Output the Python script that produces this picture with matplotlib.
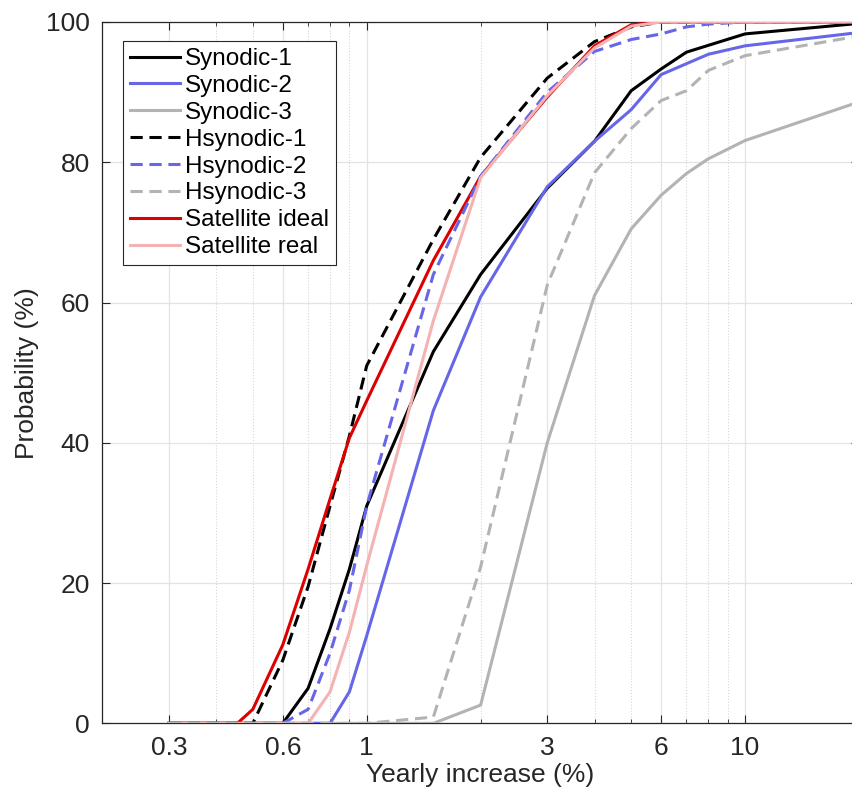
import matplotlib
matplotlib.use("Agg")
import matplotlib.pyplot as plt
from matplotlib.ticker import FixedLocator, LogLocator, NullFormatter

plt.rcParams['font.family'] = ['Liberation Sans', 'DejaVu Sans']

# Odczytane wartosci krzywych (x w %, y w %)
syn1_x = [0.3, 0.6, 0.7, 0.8, 0.9, 1, 1.5, 2, 3, 4, 5, 6, 7, 10, 20]
syn1_y = [0, 0, 5, 13.5, 22, 31, 53, 64, 76.3, 83, 90.2, 93.3, 95.7, 98.3, 99.8]

syn2_x = [0.3, 0.8, 0.9, 1, 1.5, 2, 3, 4, 5, 6, 8, 10, 20]
syn2_y = [0, 0, 4.5, 12.5, 44.6, 60.8, 76.5, 83, 87.5, 92.5, 95.4, 96.6, 98.5]

syn3_x = [0.3, 1.5, 2, 3, 4, 5, 6, 7, 8, 10, 20]
syn3_y = [0, 0, 2.6, 40, 61, 70.5, 75.3, 78.4, 80.5, 83.1, 88.6]

hsyn1_x = [0.3, 0.5, 0.6, 0.7, 0.8, 0.9, 1, 1.5, 2, 3, 4, 5, 6, 20]
hsyn1_y = [0, 0, 9, 19.5, 31, 41, 51, 69, 80.7, 92, 97.2, 99.3, 100, 100]

hsyn2_x = [0.3, 0.6, 0.7, 0.8, 0.9, 1, 1.5, 2, 3, 4, 5, 6, 7, 8, 10, 20]
hsyn2_y = [0, 0, 2, 10, 19, 31, 64, 78, 90, 95.8, 97.5, 98.3, 99.3, 99.7, 100, 100]

hsyn3_x = [0.3, 1.0, 1.2, 1.5, 2, 3, 4, 5, 6, 7, 8, 10, 20]
hsyn3_y = [0, 0, 0.4, 0.9, 22.3, 62.5, 78.5, 84.8, 88.8, 90.2, 93.1, 95.2, 98]

sat_ideal_x = [0.3, 0.455, 0.5, 0.6, 0.7, 0.8, 0.9, 1, 1.5, 2, 3, 4, 5, 6, 20]
sat_ideal_y = [0, 0, 2, 11.2, 22, 32, 40.7, 46, 66, 78, 89.3, 96.6, 99.6, 100, 100]

sat_real_x = [0.3, 0.7, 0.8, 0.9, 1, 1.5, 2, 3, 4, 5, 6, 20]
sat_real_y = [0, 0, 4.5, 13, 22.5, 57.4, 77.8, 89.5, 96.3, 99.4, 100, 100]

x_ticks = [0.3, 0.6, 1, 3, 6, 10]
x_tick_labels = ['0.3', '0.6', '1', '3', '6', '10']
y_ticks = [0, 20, 40, 60, 80, 100]

BLUE = '#6666e8'
GRAY = '#b3b3b3'
RED = '#dd0000'
PINK = '#f5b2b2'
TXT = '#262626'

fig = plt.figure(figsize=(8.53, 7.94), dpi=100)
ax = fig.add_axes([0.1199, 0.0890, 0.8871, 0.8833])

dash = (4, 2.2)
lw = 2.2
h1, = ax.plot(syn1_x, syn1_y, color='black', lw=lw, label='Synodic-1', zorder=3)
h2, = ax.plot(syn2_x, syn2_y, color=BLUE, lw=lw, label='Synodic-2', zorder=3)
h3, = ax.plot(syn3_x, syn3_y, color=GRAY, lw=lw, label='Synodic-3', zorder=2.9)
h4, = ax.plot(hsyn1_x, hsyn1_y, color='black', lw=lw, ls='--', dashes=dash, label='Hsynodic-1', zorder=3)
h5, = ax.plot(hsyn2_x, hsyn2_y, color=BLUE, lw=lw, ls='--', dashes=dash, label='Hsynodic-2', zorder=3.1)
h6, = ax.plot(hsyn3_x, hsyn3_y, color=GRAY, lw=lw, ls='--', dashes=dash, label='Hsynodic-3', zorder=3.5)
h7, = ax.plot(sat_ideal_x, sat_ideal_y, color=RED, lw=lw, label='Satellite ideal', zorder=3)
h8, = ax.plot(sat_real_x, sat_real_y, color=PINK, lw=lw, label='Satellite real', zorder=3.2)

ax.set_xscale('log')
ax.set_xlim(0.2, 20)
ax.set_ylim(0, 100)
ax.xaxis.set_major_locator(FixedLocator(x_ticks))
ax.set_xticklabels(x_tick_labels)
ax.xaxis.set_minor_locator(LogLocator(base=10, subs=range(2, 10)))
ax.xaxis.set_minor_formatter(NullFormatter())
ax.set_yticks(y_ticks)

ax.grid(True, which='major', color='#e3e3e3', lw=0.9, ls='-', zorder=0)
ax.grid(True, which='minor', axis='x', color='#d6d6d6', lw=0.8, ls=':', zorder=0)
ax.set_axisbelow(True)

ax.tick_params(which='major', direction='in', length=6, width=0.8, top=True, right=True,
               colors=TXT, labelsize=19, pad=9)
ax.tick_params(which='minor', direction='in', length=3, width=0.6, top=True, colors=TXT)
for s in ax.spines.values():
    s.set_color(TXT)
    s.set_linewidth(0.9)

ax.set_xlabel('Yearly increase (%)', fontsize=19, color=TXT, labelpad=2)
ax.set_ylabel('Probability (%)', fontsize=19, color=TXT, labelpad=5)

leg = ax.legend(handles=[h1, h2, h3, h4, h5, h6, h7, h8], loc='upper left',
                bbox_to_anchor=(0.1439, 0.9487), bbox_transform=fig.transFigure,
                fontsize=17.5, frameon=True, fancybox=False, framealpha=1,
                edgecolor=TXT, borderpad=0.3, labelspacing=0.2,
                handlelength=2.05, handletextpad=0.2, borderaxespad=0)
leg.get_frame().set_linewidth(0.8)

fig.savefig('out.png', dpi=100)
